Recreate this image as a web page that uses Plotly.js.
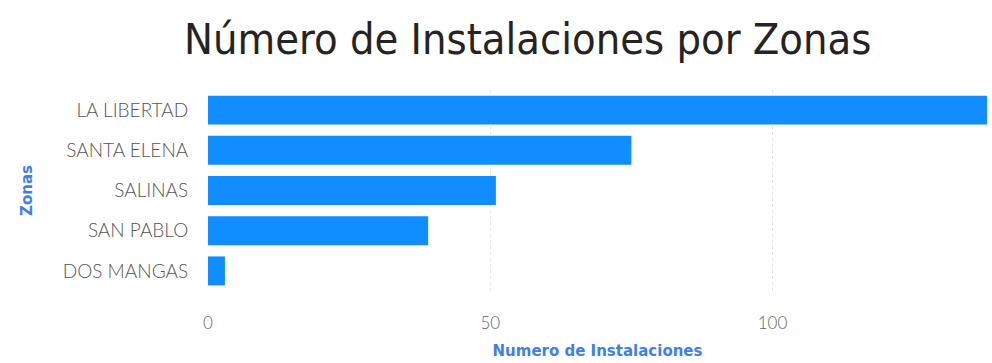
<!DOCTYPE html>
<html>
<head>
<meta charset="utf-8">
<script src="https://cdn.plot.ly/plotly-3.0.1.min.js"></script>
<style>html,body{margin:0;padding:0;background:#fff;}#chart{width:992px;height:363px;}</style>
</head>
<body>
<div id="chart"></div>
<script>
const zonas = ["LA LIBERTAD", "SANTA ELENA", "SALINAS", "SAN PABLO", "DOS MANGAS"];
const instalaciones = [138, 75, 51, 39, 3];
const xTicks = [0, 50, 100];

const trace = {
  type: "bar",
  orientation: "h",
  y: zonas,
  x: instalaciones,
  marker: {color: "#118DFF"},
  hoverinfo: "x+y"
};

const layout = {
  width: 992,
  height: 363,
  paper_bgcolor: "#ffffff",
  plot_bgcolor: "#ffffff",
  margin: {l: 208, r: 5, t: 90, b: 72},
  bargap: 0.28,
  showlegend: false,
  title: {
    text: "Número de Instalaciones por Zonas",
    font: {family: "DejaVu Sans Condensed", size: 43, color: "#252423"},
    x: 0.532, xanchor: "center",
    y: 0.893, yanchor: "middle", yref: "container"
  },
  xaxis: {
    range: [0, 138],
    tickvals: xTicks,
    ticktext: xTicks.map(String),
    showgrid: true,
    gridcolor: "#e6e6e6",
    griddash: "dot",
    gridwidth: 1,
    zeroline: false,
    showline: false,
    ticks: "outside",
    ticklen: 17,
    tickcolor: "rgba(0,0,0,0)",
    tickfont: {family: "Lato", size: 17, color: "#666666", weight: 300},
    title: {
      text: "<b>Numero de Instalaciones</b>",
      font: {family: "DejaVu Sans", size: 15, color: "#3F7FE8"},
      standoff: 13
    },
    fixedrange: true
  },
  yaxis: {
    categoryorder: "array",
    categoryarray: zonas.slice().reverse(),
    autorange: true,
    showgrid: false,
    zeroline: false,
    showline: false,
    ticks: "outside",
    ticklen: 15,
    tickcolor: "rgba(0,0,0,0)",
    tickfont: {family: "Lato", size: 19, color: "#555555", weight: 300},
    title: {
      text: "<b>Zonas</b>",
      font: {family: "DejaVu Sans", size: 15, color: "#3F7FE8"},
      standoff: 26
    },
    fixedrange: true
  }
};

Plotly.newPlot("chart", [trace], layout, {displayModeBar: false, staticPlot: true});
</script>
</body>
</html>
